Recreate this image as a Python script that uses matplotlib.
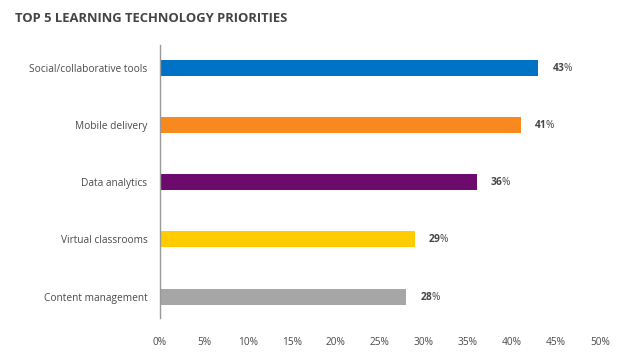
import matplotlib.pyplot as plt

plt.rcParams['font.family'] = ['Open Sans', 'DejaVu Sans']
plt.rcParams['mathtext.fontset'] = 'custom'
plt.rcParams['mathtext.bf'] = 'Open Sans:bold'
plt.rcParams['mathtext.rm'] = 'Open Sans'

categories = ['Social/collaborative tools', 'Mobile delivery', 'Data analytics',
              'Virtual classrooms', 'Content management']
values = [43, 41, 36, 29, 28]
colors = ['#0072C6', '#F7891E', '#6D0B6C', '#FFCC00', '#A6A6A6']
xticks = [0, 5, 10, 15, 20, 25, 30, 35, 40, 45, 50]

fig = plt.figure(figsize=(6.4, 3.62), dpi=100)
ax = fig.add_axes([0.25, 0.122, 0.6875, 0.754])

y = range(len(categories))
ax.barh(y, values, height=0.28, color=colors)
ax.set_ylim(4.37, -0.4)
ax.set_xlim(0, 50)

ax.set_yticks(list(y))
ax.set_yticklabels(categories, fontsize=7.3, color='#4a4a4a')
ax.set_xticks(xticks)
ax.set_xticklabels([str(t) + '%' for t in xticks], fontsize=7.3, color='#4a4a4a')
ax.tick_params(axis='y', length=0, pad=9)
ax.tick_params(axis='x', length=0, pad=14)

for s in ['top', 'right', 'bottom']:
    ax.spines[s].set_visible(False)
ax.spines['left'].set_color('#999999')
ax.spines['left'].set_linewidth(1)

# value labels: bold number + normal percent sign
for i, v in enumerate(values):
    ax.annotate(r'$\mathbf{' + str(v) + '}$%', xy=(v, i), xytext=(9.5, 0),
                textcoords='offset points', va='center', ha='left',
                fontsize=7.3, color='#444444')

fig.text(0.023, 0.95, 'TOP 5 LEARNING TECHNOLOGY PRIORITIES', fontsize=9.4,
         fontweight='bold', color='#444444', va='center', ha='left')

fig.savefig('out.png', dpi=100)
